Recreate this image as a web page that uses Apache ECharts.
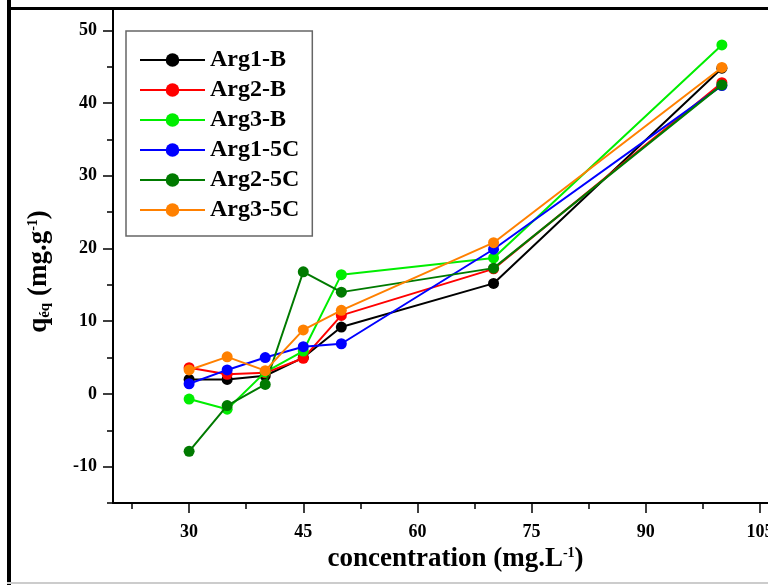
<!DOCTYPE html>
<html>
<head>
<meta charset="utf-8">
<script src="https://cdn.jsdelivr.net/npm/echarts@6/dist/echarts.min.js"></script>
<style>
  html, body { margin: 0; padding: 0; background: #fff; }
  #chart { width: 768px; height: 585px; }
</style>
</head>
<body>
<div id="chart"></div>
<script>
// concentration (mg/L)
var conc = [30, 35, 40, 45, 50, 70, 100];

// q_eq values
var arg1B  = [2.0, 2.0, 2.5, 5.0, 9.2, 15.2, 44.8];
var arg2B  = [3.6, 2.7, 2.9, 4.9, 10.8, 17.2, 42.8];
var arg3B  = [-0.7, -2.1, 3.0, 5.9, 16.4, 18.7, 48.0];
var arg15C = [1.4, 3.3, 5.0, 6.5, 6.9, 19.9, 42.4];
var arg25C = [-7.9, -1.6, 1.3, 16.8, 14.0, 17.3, 42.5];
var arg35C = [3.3, 5.1, 3.2, 8.8, 11.5, 20.8, 44.9];

var seriesNames = ['Arg1-B', 'Arg2-B', 'Arg3-B', 'Arg1-5C', 'Arg2-5C', 'Arg3-5C'];
var seriesData = [arg1B, arg2B, arg3B, arg15C, arg25C, arg35C];
var colors = ['#000000', '#ff0000', '#00ee00', '#0000ff', '#007a00', '#ff8000'];

// tick labels
var xMajor = [30, 45, 60, 75, 90, 105];
var xMinor = [22.5, 37.5, 52.5, 67.5, 82.5, 97.5];
var yMajor = [-10, 0, 10, 20, 30, 40, 50];
var yMinor = [-15, -5, 5, 15, 25, 35, 45];

var font = 'Liberation Serif';

function pairs(xs, ys) {
  var out = [];
  for (var i = 0; i < xs.length; i++) out.push([xs[i], ys[i]]);
  return out;
}

var dom = document.getElementById('chart');
var myChart = echarts.init(dom, null, { renderer: 'canvas' });

var series = [];
for (var i = 0; i < seriesNames.length; i++) {
  series.push({
    name: seriesNames[i],
    type: 'line',
    xAxisIndex: 0,
    yAxisIndex: 0,
    data: pairs(conc, seriesData[i]),
    symbol: 'circle',
    symbolSize: 11,
    lineStyle: { width: 2, color: colors[i] },
    itemStyle: { color: colors[i] },
    animation: false,
    z: 2 + i
  });
}

var option = {
  backgroundColor: '#fff',
  animation: false,
  // plot box runs past the top and right edges (the figure is cropped)
  grid: { left: 113, width: 685, bottom: 82, height: 509, outerBoundsMode: 'none', containLabel: false },
  legend: {
    orient: 'vertical',
    left: 126,
    top: 31,
    data: seriesNames,
    backgroundColor: '#fff',
    borderColor: '#666',
    borderWidth: 1.5,
    padding: [17, 13, 14, 13],
    itemWidth: 65,
    itemHeight: 17,
    itemGap: 6,
    textStyle: {
      fontFamily: font,
      fontWeight: 'bold',
      fontSize: 24,
      lineHeight: 24,
      color: '#000'
    }
  },
  xAxis: [{
    type: 'value',
    min: 20,
    max: 110,
    position: 'bottom',
    splitLine: { show: false },
    axisLine: { onZero: false, lineStyle: { color: '#000', width: 2 } },
    axisTick: { customValues: xMajor, length: 10, lineStyle: { color: '#000', width: 1.5 } },
    axisLabel: {
      customValues: xMajor,
      margin: 20,
      color: '#000',
      fontFamily: font,
      fontWeight: 'bold',
      fontSize: 18
    },
    name: 'concentration (mg.L{sup|-1})',
    nameLocation: 'middle',
    nameGap: 43,
    nameTextStyle: {
      color: '#000',
      fontFamily: font,
      fontWeight: 'bold',
      fontSize: 27,
      rich: {
        sup: { fontFamily: font, fontWeight: 'bold', fontSize: 14, verticalAlign: 'top', color: '#000' }
      }
    }
  }, {
    type: 'value',
    min: 20,
    max: 110,
    position: 'bottom',
    splitLine: { show: false },
    axisLine: { show: false, onZero: false },
    axisTick: { customValues: xMinor, length: 6, lineStyle: { color: '#000', width: 1.5 } },
    axisLabel: { show: false }
  }],
  yAxis: [{
    type: 'value',
    min: -15,
    max: 55,
    position: 'left',
    splitLine: { show: false },
    axisLine: { onZero: false, lineStyle: { color: '#000', width: 2 } },
    axisTick: { customValues: yMajor, length: 10, lineStyle: { color: '#000', width: 1.5 } },
    axisLabel: {
      customValues: yMajor,
      margin: 16,
      color: '#000',
      fontFamily: font,
      fontWeight: 'bold',
      fontSize: 18
    },
    name: 'q{sub|éq} (mg.g{sup|-1})',
    nameLocation: 'middle',
    nameGap: 60,
    nameTextStyle: {
      color: '#000',
      fontFamily: font,
      fontWeight: 'bold',
      fontSize: 27,
      padding: [0, 46, 0, 0],
      rich: {
        sub: { fontFamily: font, fontWeight: 'bold', fontSize: 15, verticalAlign: 'bottom', color: '#000' },
        sup: { fontFamily: font, fontWeight: 'bold', fontSize: 14, verticalAlign: 'top', color: '#000' }
      }
    }
  }, {
    type: 'value',
    min: -15,
    max: 55,
    position: 'left',
    splitLine: { show: false },
    axisLine: { show: false, onZero: false },
    axisTick: { customValues: yMinor, length: 6, lineStyle: { color: '#000', width: 1.5 } },
    axisLabel: { show: false }
  }],
  graphic: [
    { type: 'rect', left: 0, top: 0, shape: { width: 768, height: 7 }, style: { fill: '#fff' }, z: 99 },
    { type: 'rect', left: 7, top: 0, shape: { width: 4, height: 585 }, style: { fill: '#000' }, z: 100 },
    { type: 'rect', left: 7, top: 7, shape: { width: 761, height: 3 }, style: { fill: '#000' }, z: 100 },
    { type: 'rect', left: 7, top: 582, shape: { width: 761, height: 2 }, style: { fill: '#ccc' }, z: 100 }
  ],
  series: series
};

if (option && typeof option === 'object') {
  myChart.setOption(option, true);
  window.onresize = myChart.resize;
}
</script>
</body>
</html>
